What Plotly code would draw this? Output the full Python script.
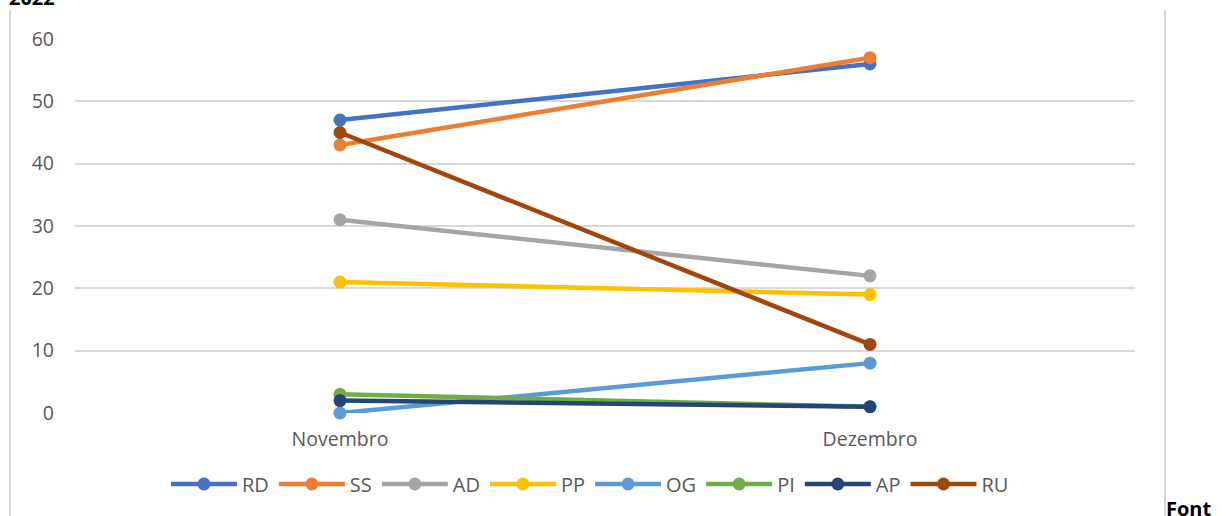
import plotly.graph_objects as go

categories = ["Novembro", "Dezembro"]
series_names = ["RD", "SS", "AD", "PP", "OG", "PI", "AP", "RU"]
rd = [47, 56]
ss = [43, 57]
ad = [31, 22]
pp = [21, 19]
og = [0, 8]
pi = [3, 1]
ap = [2, 1]
ru = [45, 11]
y_ticks = [0, 10, 20, 30, 40, 50, 60]

values = [rd, ss, ad, pp, og, pi, ap, ru]
colors = ["#4472C4", "#ED7D31", "#A5A5A5", "#FFC000", "#5B9BD5", "#70AD47", "#264478", "#9E480E"]

W, H = 1229, 516
ml, mr, mt, mb = 75, 94, 39, 103
pw = W - ml - mr
ph = H - mt - mb
FONT = "Open Sans, Liberation Sans, sans-serif"

fig = go.Figure()
for name, vals, c in zip(series_names, values, colors):
    fig.add_trace(go.Scatter(
        x=categories, y=vals, name=name, mode="lines+markers",
        line=dict(color=c, width=4.5),
        marker=dict(color=c, size=13),
        cliponaxis=False,
    ))

def px_to_paper_x(px):
    return (px - ml) / pw

def px_to_paper_y(py):
    return (H - mb - py) / ph

fig.update_layout(
    width=W, height=H,
    margin=dict(l=ml, r=mr, t=mt, b=mb),
    plot_bgcolor="white", paper_bgcolor="white",
    font=dict(family=FONT, color="#595959", size=19),
    xaxis=dict(
        type="category", range=[-0.5, 1.5], showgrid=False, zeroline=False,
        showline=False, ticks="", tickfont=dict(size=19.5, color="#595959"),
        ticklabelstandoff=12,
    ),
    yaxis=dict(
        range=[0, 60], tickvals=y_ticks, showgrid=True, gridcolor="#D9D9D9",
        gridwidth=1.5, zeroline=False, showline=False, ticks="",
        tickfont=dict(size=19.5, color="#595959"), ticklabelstandoff=20,
    ),
    showlegend=True,
    legend=dict(
        orientation="h", x=px_to_paper_x(590), xanchor="center",
        y=px_to_paper_y(484), yanchor="middle",
        font=dict(size=20, color="#595959"),
        itemwidth=66, tracegroupgap=0,
    ),
    shapes=[
        dict(type="line", xref="paper", yref="paper",
             x0=px_to_paper_x(10), x1=px_to_paper_x(10),
             y0=px_to_paper_y(10), y1=px_to_paper_y(516),
             line=dict(color="#D9D9D9", width=2)),
        dict(type="line", xref="paper", yref="paper",
             x0=px_to_paper_x(1165), x1=px_to_paper_x(1165),
             y0=px_to_paper_y(10), y1=px_to_paper_y(516),
             line=dict(color="#D9D9D9", width=2)),
    ],
    annotations=[
        dict(text="<b>2022</b>", xref="paper", yref="paper",
             x=px_to_paper_x(7), y=px_to_paper_y(-3), xanchor="left", yanchor="middle",
             showarrow=False, font=dict(size=20, color="black", family=FONT)),
        dict(text="<b>Font</b>", xref="paper", yref="paper",
             x=px_to_paper_x(1164), y=px_to_paper_y(493), xanchor="left", yanchor="top",
             showarrow=False, font=dict(size=20, color="black", family=FONT)),
    ],
)

fig.write_html("out.html", config={"displayModeBar": False},
               post_script="document.body.style.margin='0';")
